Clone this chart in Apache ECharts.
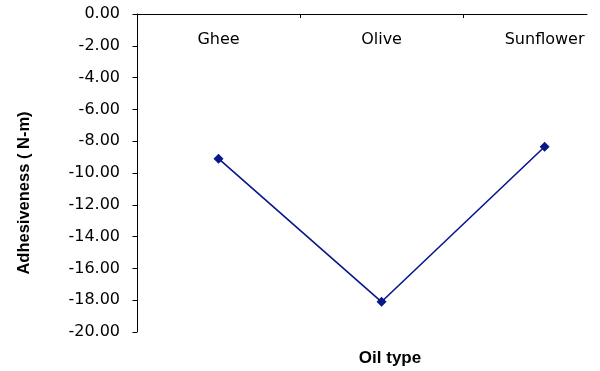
<!DOCTYPE html>
<html>
<head>
<meta charset="utf-8">
<script src="https://cdn.jsdelivr.net/npm/echarts@6/dist/echarts.min.js"></script>
<style>
  html, body { margin: 0; padding: 0; background: #fff; }
  #chart { width: 600px; height: 371px; }
</style>
</head>
<body>
<div id="chart"></div>
<script>
const oilTypes = ['Ghee', 'Olive', 'Sunflower'];
const adhesiveness = [-9.1, -18.1, -8.35];
const categoryIndex = [0, 1, 2];
const bandEdges = [0.5, 1.5];

const font = '"DejaVu Sans", sans-serif';
const boldFont = '"Liberation Sans", Arial, sans-serif';
const lineColor = '#08178a';

const myChart = echarts.init(document.getElementById('chart'));

const option = {
  animation: false,
  title: {
    text: 'Oil type',
    left: 385,
    top: 345,
    textAlign: 'center',
    textStyle: { fontFamily: boldFont, fontSize: 17, fontWeight: 'bold', color: '#000' }
  },
  graphic: [
    {
      type: 'text',
      x: 24,
      y: 193,
      rotation: Math.PI / 2,
      style: {
        text: 'Adhesiveness ( N-m)',
        fontFamily: boldFont,
        fontSize: 16.5,
        fontWeight: 'bold',
        fill: '#000',
        align: 'center',
        verticalAlign: 'middle'
      }
    }
  ],
  grid: {
    left: 137,
    top: 14,
    width: 450,
    height: 318
  },
  xAxis: {
    type: 'value',
    position: 'top',
    min: -0.5,
    max: 2.26,
    axisLine: { show: true, onZero: false, lineStyle: { color: '#000', width: 1 } },
    axisTick: {
      show: true,
      inside: true,
      length: 4,
      customValues: bandEdges,
      lineStyle: { color: '#000' }
    },
    axisLabel: {
      inside: true,
      margin: 18,
      customValues: categoryIndex,
      formatter: v => oilTypes[Math.round(v)] || '',
      fontFamily: font,
      fontSize: 16,
      color: '#000'
    },
    splitLine: { show: false }
  },
  yAxis: {
    type: 'value',
    min: -20,
    max: 0,
    interval: 2,
    axisLine: { show: true, onZero: false, lineStyle: { color: '#000', width: 1 } },
    axisTick: { show: true, length: 4.5, lineStyle: { color: '#000' } },
    axisLabel: {
      margin: 17,
      fontFamily: font,
      fontSize: 16,
      color: '#000',
      formatter: v => v.toFixed(2)
    },
    splitLine: { show: false }
  },
  series: [
    {
      type: 'line',
      data: categoryIndex.map((i, k) => [i, adhesiveness[k]]),
      symbol: 'diamond',
      symbolSize: 10,
      lineStyle: { color: lineColor, width: 1.6 },
      itemStyle: { color: lineColor }
    }
  ]
};

myChart.setOption(option);
</script>
</body>
</html>
